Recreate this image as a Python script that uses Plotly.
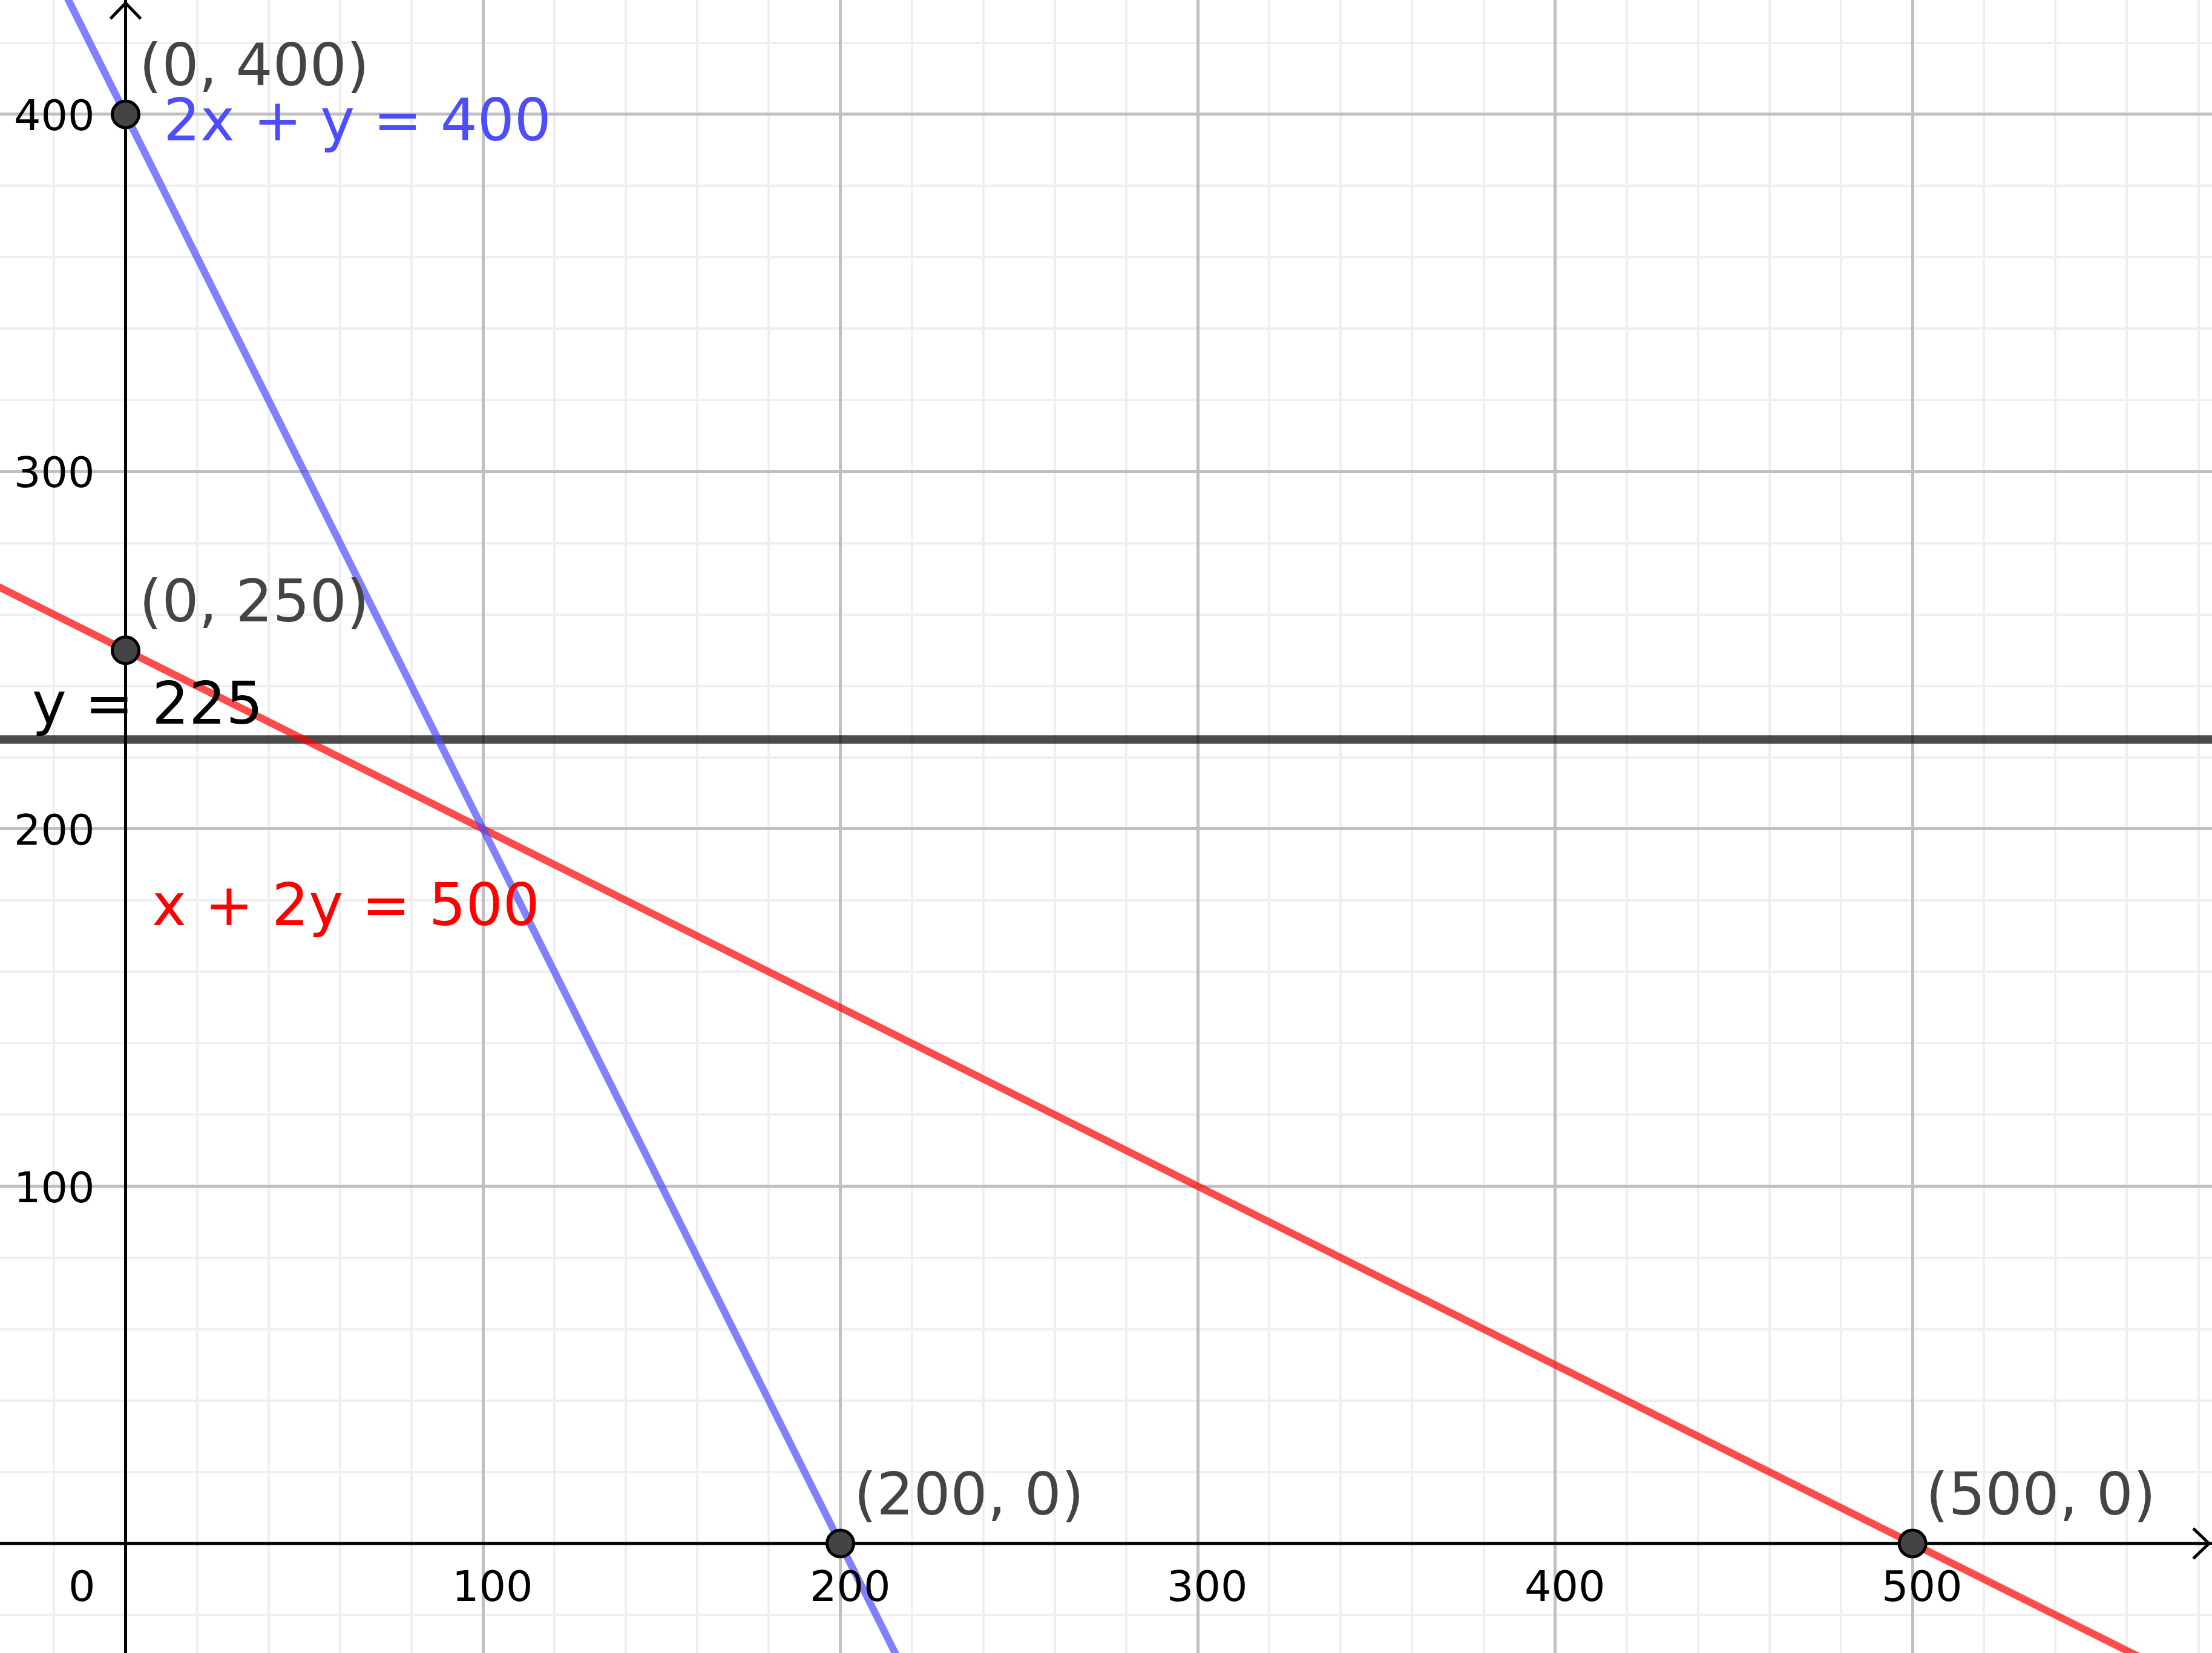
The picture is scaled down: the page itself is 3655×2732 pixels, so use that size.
import plotly.graph_objects as go

# ---- data ----
X_RANGE = [-35.14, 583.8]
Y_RANGE = [-30.65, 432.0]

x_ticks = [100, 200, 300, 400, 500]
y_ticks = [100, 200, 300, 400]

# lines given by their intercept points
line_names = ["y = 225", "x + 2y = 500", "2x + y = 400"]
line_p1 = [(0, 225), (0, 250), (0, 400)]
line_p2 = [(500, 225), (500, 0), (200, 0)]
line_colors = ["#000000", "#ff0000", "#4d4dff"]
line_widths = [14, 12, 12]

# equation label positions (data units)
eq_label_x = [-26.5, 7.0, 10.2]
eq_label_y = [235.0, 178.7, 398.3]

point_x = [0, 0, 200, 500]
point_y = [400, 250, 0, 0]
point_labels = ["(0, 400)", "(0, 250)", "(200, 0)", "(500, 0)"]

W, H = 3655, 2732
ppu = W / (X_RANGE[1] - X_RANGE[0])
FONT = "DejaVu Sans"

fig = go.Figure()

# axes (drawn as lines)
fig.add_trace(go.Scatter(x=[X_RANGE[0], X_RANGE[1]], y=[0, 0], mode="lines",
                         line=dict(color="black", width=5), hoverinfo="skip", showlegend=False))
fig.add_trace(go.Scatter(x=[0, 0], y=[Y_RANGE[0], Y_RANGE[1]], mode="lines",
                         line=dict(color="black", width=5), hoverinfo="skip", showlegend=False))
# arrow chevrons
ax_tip = X_RANGE[1] - 5 / ppu
ay_tip = Y_RANGE[1] - 5 / ppu
dl = 26 / ppu
dw = 25 / ppu
fig.add_trace(go.Scatter(x=[ax_tip - dl, ax_tip, ax_tip - dl], y=[dw, 0, -dw], mode="lines",
                         line=dict(color="black", width=5), hoverinfo="skip", showlegend=False))
fig.add_trace(go.Scatter(x=[-dw, 0, dw], y=[ay_tip - dl, ay_tip, ay_tip - dl], mode="lines",
                         line=dict(color="black", width=5), hoverinfo="skip", showlegend=False))

# lines extended across the view
for name, p1, p2, col, w in zip(line_names, line_p1, line_p2, line_colors, line_widths):
    (x1, y1), (x2, y2) = p1, p2
    xs = [X_RANGE[0] - 20, X_RANGE[1] + 20]
    if x2 != x1:
        m = (y2 - y1) / (x2 - x1)
        ys = [y1 + m * (xx - x1) for xx in xs]
    else:
        ys = [y1, y1]
    fig.add_trace(go.Scatter(x=xs, y=ys, mode="lines", name=name,
                             line=dict(color=col, width=w), opacity=0.7,
                             hoverinfo="skip", showlegend=False))

# points
fig.add_trace(go.Scatter(x=point_x, y=point_y, mode="markers",
                         marker=dict(size=44, color="#444444", line=dict(color="black", width=5)),
                         hoverinfo="skip", showlegend=False))

ann = []
for t in x_ticks:
    ann.append(dict(x=t, y=0, xref="x", yref="y", text=str(t), showarrow=False,
                    xanchor="center", yanchor="middle", xshift=16, yshift=-71,
                    font=dict(family=FONT, size=70, color="black")))
ann.append(dict(x=0, y=0, xref="x", yref="y", text="0", showarrow=False,
                xanchor="right", yanchor="middle", xshift=-48, yshift=-71,
                font=dict(family=FONT, size=70, color="black")))
for t in y_ticks:
    ann.append(dict(x=0, y=t, xref="x", yref="y", text=str(t), showarrow=False,
                    xanchor="right", yanchor="middle", xshift=-49, yshift=-2,
                    font=dict(family=FONT, size=70, color="black")))
for px, py, lab in zip(point_x, point_y, point_labels):
    ann.append(dict(x=px, y=py, xref="x", yref="y", text=lab, showarrow=False,
                    xanchor="left", yanchor="middle", xshift=20, yshift=81,
                    font=dict(family=FONT, size=96, color="#444444")))
for name, lx, ly, col in zip(line_names, eq_label_x, eq_label_y, line_colors):
    ann.append(dict(x=lx, y=ly, xref="x", yref="y", text=name, showarrow=False,
                    xanchor="left", yanchor="middle",
                    font=dict(family=FONT, size=96, color=col)))

axis_common = dict(showgrid=True, gridcolor="#c0c0c0", gridwidth=5, dtick=100, tick0=0,
                   zeroline=False, showticklabels=False, ticks="", showline=False,
                   minor=dict(dtick=20, tick0=0, showgrid=True, gridcolor="#efefef", gridwidth=4))

fig.update_layout(
    width=W, height=H, margin=dict(l=0, r=0, t=0, b=0),
    paper_bgcolor="white", plot_bgcolor="white",
    xaxis=dict(range=X_RANGE, **axis_common),
    yaxis=dict(range=Y_RANGE, **axis_common),
    annotations=ann, showlegend=False,
)

fig.write_html("out.html", config={"displayModeBar": False},
               post_script="document.body.style.margin='0';document.body.style.overflow='hidden';")
